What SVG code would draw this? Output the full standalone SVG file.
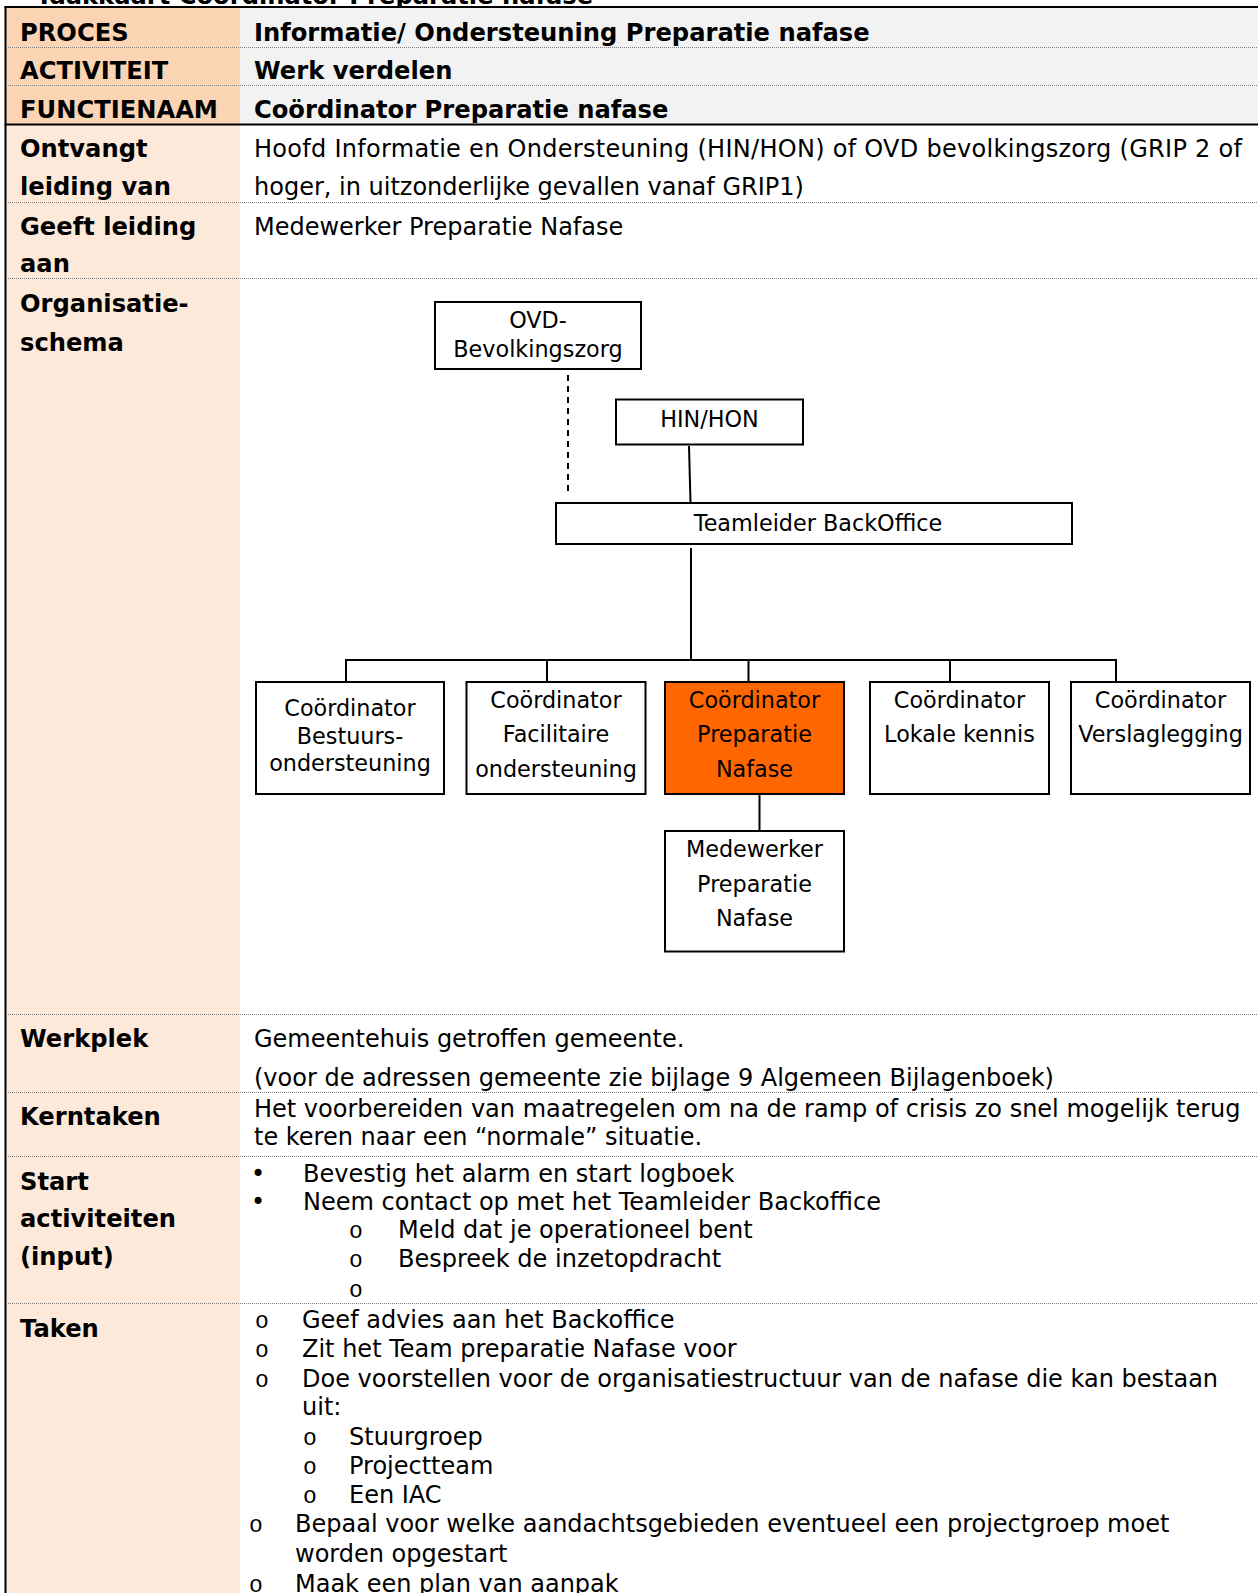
<svg xmlns="http://www.w3.org/2000/svg" width="1258" height="1593" viewBox="0 0 1258 1593">
<style>
text { font-family: "DejaVu Sans", Verdana, sans-serif; font-size: 24px; fill: #000; }
.b { font-weight: bold; font-size: 24.2px; }
.org { font-size: 22.3px; text-anchor: middle; }
.box { fill: #fff; stroke: #000; stroke-width: 2; }
.hot { fill: #FF6600; }
.dot { stroke: #808080; stroke-width: 1; stroke-dasharray: 1 1; fill: none; }
.rule { stroke: #000; stroke-width: 2; fill: none; }
.con { stroke: #000; stroke-width: 2; fill: none; }
.dash { stroke-dasharray: 6 5; }
.mono { font-family: "Liberation Mono", "Courier New", monospace; font-size: 23px; }
</style>
<rect x="0" y="0" width="1258" height="1593" fill="#fff"/>

<!-- title (cut off at top, as in the source) -->
<text class="b" x="36" y="4">Taakkaart Coördinator Preparatie nafase</text>

<!-- table backgrounds -->
<g id="table-bg">
  <rect x="6" y="7" width="234" height="117" fill="#FBD4B4"/>
  <rect x="240" y="7" width="1018" height="117" fill="#F2F2F2"/>
  <rect x="6" y="125" width="234" height="1468" fill="#FDE9D9"/>
</g>

<!-- table rules -->
<g id="table-rules">
  <line class="rule" x1="4.5" y1="7" x2="1258" y2="7"/>
  <line class="rule" x1="5.5" y1="6" x2="5.5" y2="1593"/>
  <line class="rule" x1="4.5" y1="124.5" x2="1258" y2="124.5"/>
  <line class="dot" x1="6" y1="47.5" x2="1258" y2="47.5"/>
  <line class="dot" x1="6" y1="85.5" x2="1258" y2="85.5"/>
  <line class="dot" x1="6" y1="202.5" x2="1258" y2="202.5"/>
  <line class="dot" x1="6" y1="278.5" x2="1258" y2="278.5"/>
  <line class="dot" x1="6" y1="1014.5" x2="1258" y2="1014.5"/>
  <line class="dot" x1="6" y1="1092.5" x2="1258" y2="1092.5"/>
  <line class="dot" x1="6" y1="1156.5" x2="1258" y2="1156.5"/>
  <line class="dot" x1="6" y1="1303.5" x2="1258" y2="1303.5"/>
</g>

<g id="row-proces">
  <text class="b" x="20" y="40.5">PROCES</text>
  <text class="b" x="254" y="40.5">Informatie/ Ondersteuning Preparatie nafase</text>
</g>
<g id="row-activiteit">
  <text class="b" x="20" y="79">ACTIVITEIT</text>
  <text class="b" x="254" y="79">Werk verdelen</text>
</g>
<g id="row-functienaam">
  <text class="b" x="20" y="118">FUNCTIENAAM</text>
  <text class="b" x="254" y="118">Coördinator Preparatie nafase</text>
</g>
<g id="row-ontvangt">
  <text class="b" x="20" y="157">Ontvangt</text>
  <text class="b" x="20" y="195">leiding van</text>
  <text x="254" y="157" textLength="988" lengthAdjust="spacing">Hoofd Informatie en Ondersteuning (HIN/HON) of OVD bevolkingszorg (GRIP 2 of</text>
  <text x="254" y="195">hoger, in uitzonderlijke gevallen vanaf GRIP1)</text>
</g>
<g id="row-geeft">
  <text class="b" x="20" y="235">Geeft leiding</text>
  <text class="b" x="20" y="272">aan</text>
  <text x="254" y="235">Medewerker Preparatie Nafase</text>
</g>
<g id="row-organisatie">
  <text class="b" x="20" y="312">Organisatie-</text>
  <text class="b" x="20" y="351">schema</text>
</g>

<!-- org chart connectors -->
<g id="connectors">
  <line class="con dash" x1="568" y1="375" x2="568" y2="493"/>
  <line class="con" x1="689" y1="446" x2="690.5" y2="503"/>
  <line class="con" x1="691" y1="548" x2="691" y2="660"/>
  <line class="con" x1="345" y1="660" x2="1117" y2="660"/>
  <line class="con" x1="346" y1="660" x2="346" y2="682"/>
  <line class="con" x1="547" y1="660" x2="547" y2="682"/>
  <line class="con" x1="748.5" y1="660" x2="748.5" y2="682"/>
  <line class="con" x1="950" y1="660" x2="950" y2="682"/>
  <line class="con" x1="1116" y1="660" x2="1116" y2="682"/>
  <line class="con" x1="759.5" y1="794" x2="759.5" y2="831"/>
</g>

<!-- org chart nodes -->
<g id="node-ovd">
  <rect class="box" x="435" y="302" width="206" height="67"/>
  <text class="org" x="538" y="328">OVD-</text>
  <text class="org" x="538" y="357">Bevolkingszorg</text>
</g>
<g id="node-hin">
  <rect class="box" x="616" y="399.5" width="187" height="45"/>
  <text class="org" x="709.5" y="427">HIN/HON</text>
</g>
<g id="node-teamleider">
  <rect class="box" x="556" y="503" width="516" height="41"/>
  <text class="org" x="818" y="531">Teamleider BackOffice</text>
</g>
<g id="node-bestuur">
  <rect class="box" x="256" y="682" width="188" height="112"/>
  <text class="org" x="350" y="716">Coördinator</text>
  <text class="org" x="350" y="744">Bestuurs-</text>
  <text class="org" x="350" y="771">ondersteuning</text>
</g>
<g id="node-facilitair">
  <rect class="box" x="466.5" y="682" width="179" height="112"/>
  <text class="org" x="556" y="708">Coördinator</text>
  <text class="org" x="556" y="742">Facilitaire</text>
  <text class="org" x="556" y="776.5">ondersteuning</text>
</g>
<g id="node-preparatie">
  <rect class="box hot" x="665" y="682" width="179" height="112"/>
  <text class="org" x="754.5" y="708">Coördinator</text>
  <text class="org" x="754.5" y="742">Preparatie</text>
  <text class="org" x="754.5" y="776.5">Nafase</text>
</g>
<g id="node-lokaal">
  <rect class="box" x="870" y="682" width="179" height="112"/>
  <text class="org" x="959.5" y="708">Coördinator</text>
  <text class="org" x="959.5" y="742">Lokale kennis</text>
</g>
<g id="node-verslag">
  <rect class="box" x="1071" y="682" width="179" height="112"/>
  <text class="org" x="1160.5" y="708">Coördinator</text>
  <text class="org" x="1160.5" y="742">Verslaglegging</text>
</g>
<g id="node-medewerker">
  <rect class="box" x="665" y="831" width="179" height="120.5"/>
  <text class="org" x="754.5" y="857">Medewerker</text>
  <text class="org" x="754.5" y="892">Preparatie</text>
  <text class="org" x="754.5" y="926">Nafase</text>
</g>

<g id="row-werkplek">
  <text class="b" x="20" y="1047">Werkplek</text>
  <text x="254" y="1047">Gemeentehuis getroffen gemeente.</text>
  <text x="254" y="1086">(voor de adressen gemeente zie bijlage 9 Algemeen Bijlagenboek)</text>
</g>
<g id="row-kerntaken">
  <text class="b" x="20" y="1125">Kerntaken</text>
  <text x="254" y="1117">Het voorbereiden van maatregelen om na de ramp of crisis zo snel mogelijk terug</text>
  <text x="254" y="1145">te keren naar een “normale” situatie.</text>
</g>
<g id="row-start">
  <text class="b" x="20" y="1190">Start</text>
  <text class="b" x="20" y="1227">activiteiten</text>
  <text class="b" x="20" y="1265">(input)</text>
  <text x="251" y="1182">•</text>
  <text x="303" y="1182">Bevestig het alarm en start logboek</text>
  <text x="251" y="1210">•</text>
  <text x="303" y="1210">Neem contact op met het Teamleider Backoffice</text>
  <text class="mono" x="349" y="1238">o</text>
  <text x="398" y="1238">Meld dat je operationeel bent</text>
  <text class="mono" x="349" y="1267">o</text>
  <text x="398" y="1267">Bespreek de inzetopdracht</text>
  <text class="mono" x="349" y="1297">o</text>
</g>
<g id="row-taken">
  <text class="b" x="20" y="1337">Taken</text>
  <text class="mono" x="255" y="1328">o</text>
  <text x="302" y="1328">Geef advies aan het Backoffice</text>
  <text class="mono" x="255" y="1357">o</text>
  <text x="302" y="1357">Zit het Team preparatie Nafase voor</text>
  <text class="mono" x="255" y="1387">o</text>
  <text x="302" y="1387">Doe voorstellen voor de organisatiestructuur van de nafase die kan bestaan</text>
  <text x="302" y="1415">uit:</text>
  <text class="mono" x="303" y="1445">o</text>
  <text x="349" y="1445">Stuurgroep</text>
  <text class="mono" x="303" y="1474">o</text>
  <text x="349" y="1474">Projectteam</text>
  <text class="mono" x="303" y="1503">o</text>
  <text x="349" y="1503">Een IAC</text>
  <text class="mono" x="249" y="1532">o</text>
  <text x="295" y="1532">Bepaal voor welke aandachtsgebieden eventueel een projectgroep moet</text>
  <text x="295" y="1562">worden opgestart</text>
  <text class="mono" x="249" y="1592">o</text>
  <text x="295" y="1592">Maak een plan van aanpak</text>
</g>
</svg>
